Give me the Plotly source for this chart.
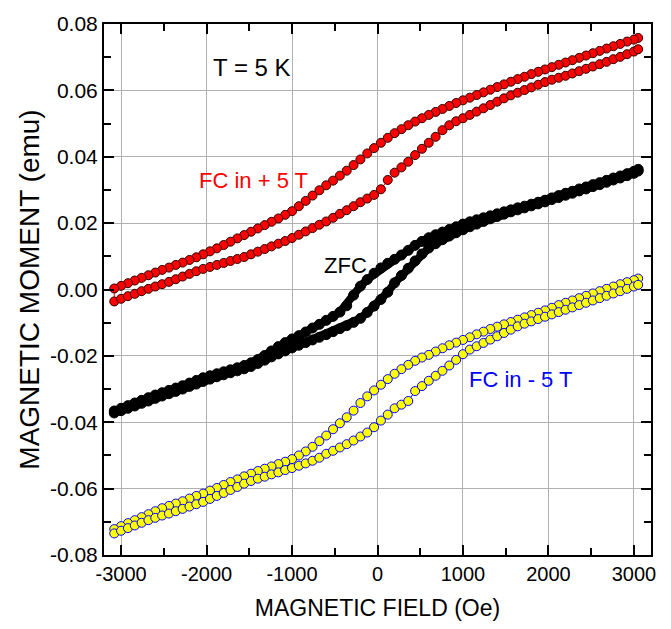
import plotly.graph_objects as go

# Applied field sweep (Oe), shared by every branch of the hysteresis loops
FIELD_OE = [
    -3080, -3000, -2920, -2840, -2760, -2680, -2600, -2520, -2440, -2360,
    -2280, -2200, -2120, -2040, -1960, -1880, -1800, -1720, -1640, -1560,
    -1480, -1400, -1320, -1240, -1160, -1080, -1000, -920, -840, -760,
    -680, -600, -520, -440, -360, -280, -200, -120, -40, 40,
    120, 200, 280, 360, 440, 520, 600, 680, 760, 840,
    920, 1000, 1080, 1160, 1240, 1320, 1400, 1480, 1560, 1640,
    1720, 1800, 1880, 1960, 2040, 2120, 2200, 2280, 2360, 2440,
    2520, 2600, 2680, 2760, 2840, 2920, 3000, 3050,
]

# Field-cooled in +5 T: decreasing-field and increasing-field branches (emu)
FC_PLUS_DOWN = [
    0.0003, 0.0011, 0.0019, 0.0027, 0.0035, 0.0043, 0.0051, 0.0059, 0.0066, 0.0074,
    0.0081, 0.0089, 0.0097, 0.0106, 0.0115, 0.0124, 0.0134, 0.0144, 0.0154, 0.0164,
    0.0174, 0.0184, 0.0194, 0.0204, 0.0214, 0.0225, 0.0236, 0.0251, 0.0267, 0.0283,
    0.0299, 0.0314, 0.0328, 0.0343, 0.0358, 0.0375, 0.0392, 0.0410, 0.0426, 0.0442,
    0.0457, 0.0471, 0.0483, 0.0495, 0.0506, 0.0516, 0.0526, 0.0535, 0.0544, 0.0553,
    0.0562, 0.0570, 0.0578, 0.0586, 0.0594, 0.0602, 0.0610, 0.0618, 0.0626, 0.0634,
    0.0641, 0.0649, 0.0656, 0.0663, 0.0670, 0.0677, 0.0684, 0.0691, 0.0698, 0.0705,
    0.0712, 0.0719, 0.0726, 0.0733, 0.0740, 0.0747, 0.0753, 0.0758,
]
FC_PLUS_UP = [
    -0.0036, -0.0028, -0.0020, -0.0013, -0.0005, 0.0002, 0.0009, 0.0016, 0.0023, 0.0031,
    0.0039, 0.0047, 0.0055, 0.0062, 0.0068, 0.0074, 0.0080, 0.0086, 0.0092, 0.0098,
    0.0106, 0.0114, 0.0122, 0.0130, 0.0138, 0.0146, 0.0155, 0.0165, 0.0175, 0.0185,
    0.0195, 0.0205, 0.0216, 0.0228, 0.0239, 0.0251, 0.0263, 0.0274, 0.0285, 0.0302,
    0.0330, 0.0352, 0.0368, 0.0385, 0.0405, 0.0424, 0.0442, 0.0460, 0.0480, 0.0495,
    0.0507, 0.0516, 0.0526, 0.0536, 0.0546, 0.0556, 0.0566, 0.0576, 0.0585, 0.0593,
    0.0601, 0.0609, 0.0617, 0.0625, 0.0632, 0.0638, 0.0644, 0.0651, 0.0658, 0.0665,
    0.0672, 0.0679, 0.0686, 0.0694, 0.0701, 0.0709, 0.0717, 0.0724,
]

# Zero-field-cooled loop (emu)
ZFC_DOWN = [
    -0.0366, -0.0358, -0.0350, -0.0342, -0.0334, -0.0326, -0.0318, -0.0311, -0.0304, -0.0297,
    -0.0290, -0.0282, -0.0274, -0.0266, -0.0260, -0.0254, -0.0248, -0.0242, -0.0236, -0.0229,
    -0.0221, -0.0211, -0.0199, -0.0185, -0.0172, -0.0160, -0.0149, -0.0139, -0.0128, -0.0116,
    -0.0105, -0.0093, -0.0081, -0.0068, -0.0049, -0.0017, 0.0010, 0.0030, 0.0049, 0.0065,
    0.0079, 0.0091, 0.0104, 0.0118, 0.0133, 0.0145, 0.0156, 0.0165, 0.0173, 0.0181,
    0.0189, 0.0197, 0.0204, 0.0210, 0.0216, 0.0222, 0.0228, 0.0234, 0.0240, 0.0246,
    0.0251, 0.0257, 0.0263, 0.0269, 0.0276, 0.0283, 0.0290, 0.0296, 0.0303, 0.0309,
    0.0316, 0.0322, 0.0329, 0.0336, 0.0342, 0.0349, 0.0356, 0.0362,
]
ZFC_UP = [
    -0.0372, -0.0365, -0.0358, -0.0351, -0.0343, -0.0336, -0.0328, -0.0321, -0.0314, -0.0307,
    -0.0300, -0.0292, -0.0285, -0.0277, -0.0270, -0.0263, -0.0257, -0.0251, -0.0245, -0.0239,
    -0.0232, -0.0223, -0.0213, -0.0203, -0.0194, -0.0185, -0.0176, -0.0168, -0.0160, -0.0152,
    -0.0144, -0.0136, -0.0127, -0.0118, -0.0109, -0.0099, -0.0087, -0.0069, -0.0050, -0.0030,
    -0.0008, 0.0020, 0.0042, 0.0064, 0.0086, 0.0107, 0.0125, 0.0138, 0.0150, 0.0161,
    0.0171, 0.0180, 0.0189, 0.0197, 0.0205, 0.0213, 0.0220, 0.0227, 0.0234, 0.0240,
    0.0246, 0.0252, 0.0258, 0.0264, 0.0271, 0.0277, 0.0284, 0.0290, 0.0297, 0.0303,
    0.0310, 0.0316, 0.0323, 0.0330, 0.0336, 0.0343, 0.0350, 0.0357,
]

# Field-cooled in -5 T (emu)
FC_MINUS_DOWN = [
    -0.0722, -0.0713, -0.0704, -0.0695, -0.0686, -0.0677, -0.0668, -0.0659, -0.0652, -0.0645,
    -0.0638, -0.0630, -0.0622, -0.0615, -0.0606, -0.0598, -0.0589, -0.0580, -0.0572, -0.0563,
    -0.0555, -0.0547, -0.0540, -0.0533, -0.0526, -0.0519, -0.0511, -0.0500, -0.0488, -0.0474,
    -0.0457, -0.0440, -0.0421, -0.0403, -0.0385, -0.0365, -0.0342, -0.0322, -0.0304, -0.0287,
    -0.0270, -0.0254, -0.0240, -0.0227, -0.0215, -0.0205, -0.0197, -0.0187, -0.0177, -0.0168,
    -0.0160, -0.0152, -0.0144, -0.0135, -0.0127, -0.0119, -0.0112, -0.0105, -0.0098, -0.0091,
    -0.0084, -0.0077, -0.0070, -0.0063, -0.0055, -0.0047, -0.0040, -0.0033, -0.0026, -0.0019,
    -0.0012, -0.0005, 0.0002, 0.0009, 0.0016, 0.0022, 0.0028, 0.0033,
]
FC_MINUS_UP = [
    -0.0735, -0.0727, -0.0719, -0.0711, -0.0703, -0.0695, -0.0688, -0.0681, -0.0675, -0.0668,
    -0.0661, -0.0654, -0.0647, -0.0640, -0.0631, -0.0622, -0.0613, -0.0604, -0.0595, -0.0585,
    -0.0577, -0.0570, -0.0564, -0.0557, -0.0551, -0.0544, -0.0538, -0.0531, -0.0524, -0.0516,
    -0.0507, -0.0495, -0.0486, -0.0476, -0.0466, -0.0455, -0.0443, -0.0431, -0.0415, -0.0395,
    -0.0377, -0.0358, -0.0347, -0.0336, -0.0306, -0.0291, -0.0275, -0.0260, -0.0245, -0.0229,
    -0.0212, -0.0195, -0.0181, -0.0171, -0.0161, -0.0151, -0.0141, -0.0131, -0.0121, -0.0111,
    -0.0103, -0.0096, -0.0089, -0.0082, -0.0075, -0.0068, -0.0061, -0.0054, -0.0047, -0.0040,
    -0.0033, -0.0026, -0.0019, -0.0012, -0.0005, 0.0002, 0.0009, 0.0014,
]

X_TICKS = [-3000, -2000, -1000, 0, 1000, 2000, 3000]
X_TICK_TEXT = ["-3000", "-2000", "-1000", "0", "1000", "2000", "3000"]
Y_TICKS = [-0.08, -0.06, -0.04, -0.02, 0.0, 0.02, 0.04, 0.06, 0.08]
Y_TICK_TEXT = ["-0.08", "-0.06", "-0.04", "-0.02", "0.00", "0.02", "0.04", "0.06", "0.08"]

FONT = "Liberation Sans, Arial, sans-serif"


def full_loop(down, up):
    """Join the decreasing-field branch (run from +H to -H) with the increasing one."""
    return FIELD_OE[::-1] + FIELD_OE, down[::-1] + up


fig = go.Figure()

x, y = full_loop(FC_PLUS_DOWN, FC_PLUS_UP)
fig.add_trace(go.Scatter(
    x=x, y=y, mode="lines+markers",
    line=dict(color="#ff0000", width=1),
    marker=dict(size=9, color="#ff0000", line=dict(color="#300000", width=1)),
))

x, y = full_loop(ZFC_DOWN, ZFC_UP)
fig.add_trace(go.Scatter(
    x=x, y=y, mode="lines+markers",
    line=dict(color="#000000", width=8),
    marker=dict(size=10, color="#000000", line=dict(color="#000000", width=1)),
))

x, y = full_loop(FC_MINUS_DOWN, FC_MINUS_UP)
fig.add_trace(go.Scatter(
    x=x, y=y, mode="lines+markers",
    line=dict(color="#0000ff", width=1),
    marker=dict(size=9, color="#ffff00", line=dict(color="#0000ff", width=1)),
))

annotations = [
    dict(x=-1474, y=0.0668, text="T = 5 K", color="#000000", size=24),
    dict(x=-1454, y=0.0327, text="FC in + 5 T", color="#ff0000", size=22),
    dict(x=-374, y=0.0071, text="ZFC", color="#000000", size=22),
    dict(x=1678, y=-0.0271, text="FC in - 5 T", color="#0000ff", size=22),
]
for a in annotations:
    fig.add_annotation(
        x=a["x"], y=a["y"], xref="x", yref="y", text=a["text"], showarrow=False,
        xanchor="center", yanchor="middle",
        font=dict(family=FONT, size=a["size"], color=a["color"]),
    )

axis_common = dict(
    showline=True, linecolor="#000000", linewidth=2, mirror="ticks",
    ticks="inside", ticklen=10, tickwidth=2, tickcolor="#000000",
    showgrid=True, gridcolor="#b0b0b0", gridwidth=1, zeroline=False,
)

fig.update_xaxes(
    range=[-3200, 3200], tickvals=X_TICKS, ticktext=X_TICK_TEXT,
    tickfont=dict(family=FONT, size=20, color="#000000"),
    minor=dict(ticks="inside", ticklen=7, tickwidth=2, tickcolor="#000000",
               dtick=500, showgrid=False),
    title=dict(text="MAGNETIC FIELD (Oe)", standoff=16,
               font=dict(family=FONT, size=23, color="#000000")),
    **axis_common,
)
fig.update_yaxes(
    range=[-0.08, 0.08], tickvals=Y_TICKS, ticktext=Y_TICK_TEXT,
    tickfont=dict(family=FONT, size=21, color="#000000"),
    minor=dict(ticks="inside", ticklen=7, tickwidth=2, tickcolor="#000000",
               dtick=0.01, showgrid=False),
    title=dict(text="MAGNETIC MOMENT (emu)", standoff=2,
               font=dict(family=FONT, size=28, color="#000000")),
    **axis_common,
)

fig.update_layout(
    width=671, height=629,
    margin=dict(l=104, r=20, t=14, b=69),
    paper_bgcolor="#ffffff", plot_bgcolor="#ffffff",
    showlegend=False,
    font=dict(family=FONT, color="#000000"),
)

fig.write_html("out.html")
